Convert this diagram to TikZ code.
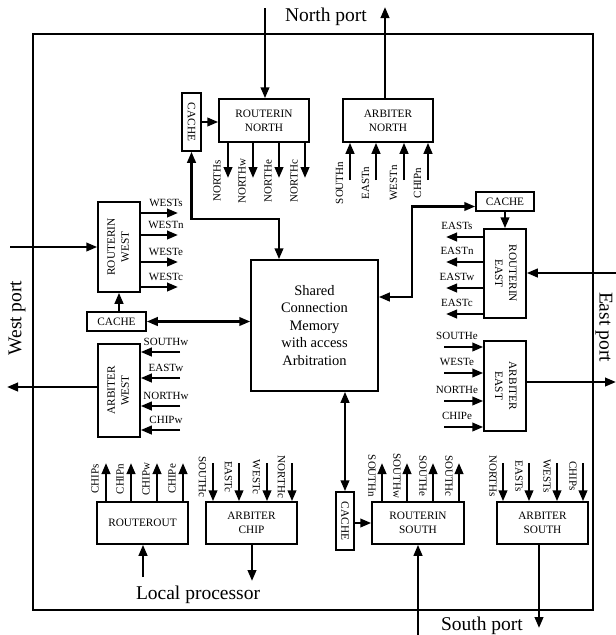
\documentclass[tikz,border=0pt]{standalone}
\usepackage{fontspec}
\setmainfont{Liberation Serif}
\usepackage{graphicx}
\usetikzlibrary{arrows.meta,calc}
\newcommand{\twol}[2]{\begin{tabular}{@{}c@{}}#1\\#2\end{tabular}}
\begin{document}
\begin{tikzpicture}[x=1pt,y=-1pt,
 box/.style={draw,line width=1.5pt,inner sep=0pt,align=center,font=\fontsize{11.3}{14}\selectfont},
 lbl/.style={inner sep=0pt,font=\fontsize{11}{13}\selectfont},
 port/.style={inner sep=0pt,font=\fontsize{19.5}{22}\selectfont},
 arr/.style={line width=2.3pt,-{Triangle[length=11pt,width=8.5pt]}},
 dbl/.style={line width=2.3pt,{Triangle[length=11pt,width=8.5pt]}-{Triangle[length=11pt,width=8.5pt]}},
]
\useasboundingbox (0,0) rectangle (616,635);
\draw[line width=1.4pt] (33,34) rectangle (593,610);

% boxes
\node[box,minimum width=90,minimum height=43] (rn) at (264,120.5) {ROUTERIN\\NORTH};
\node[box,minimum width=90,minimum height=43] (an) at (388,120.5) {ARBITER\\NORTH};
\node[box,minimum width=19,minimum height=58] (cn) at (191.5,122) {\rotatebox{-90}{CACHE}};
\node[box,minimum width=127,minimum height=131,font=\fontsize{14.5}{17.5}\selectfont] (sm) at (314.5,325.5) {Shared\\Connection\\Memory\\with access\\Arbitration};
\node[box,minimum width=42,minimum height=90] (rw) at (119,247) {\rotatebox{90}{\twol{ROUTERIN}{WEST}}};
\node[box,minimum width=59,minimum height=19] (cw) at (116.5,321.5) {CACHE};
\node[box,minimum width=42,minimum height=93] (aw) at (119,390.5) {\rotatebox{90}{\twol{ARBITER}{WEST}}};
\node[box,minimum width=58,minimum height=19] (ce) at (505,201.5) {CACHE};
\node[box,minimum width=42,minimum height=89] (re) at (505,273.5) {\rotatebox{-90}{\twol{ROUTERIN}{EAST}}};
\node[box,minimum width=42,minimum height=90] (ae) at (505,386) {\rotatebox{-90}{\twol{ARBITER}{EAST}}};
\node[box,minimum width=18,minimum height=58] (cs) at (345,521) {\rotatebox{-90}{CACHE}};
\node[box,minimum width=92,minimum height=42] (rs) at (418,523) {ROUTERIN\\SOUTH};
\node[box,minimum width=91,minimum height=42] (as) at (542.5,523) {ARBITER\\SOUTH};
\node[box,minimum width=91,minimum height=42] (ro) at (142.5,523) {ROUTEROUT};
\node[box,minimum width=91,minimum height=42] (ac) at (251.5,523) {ARBITER\\CHIP};

% port texts
\node[port] (tn) at (326,17) {North port};
\node[port,rotate=90] (tw) at (17,318) {West port};
\node[port,rotate=-90] (te) at (604,327) {East port};
\node[port] (ts) at (482,626) {South port};
\node[port] (tl) at (198,595) {Local processor};

% port arrows
\coordinate (nin) at (265,8);
\coordinate (nout) at (385,7);
\coordinate (win) at (10,247);
\coordinate (wout) at (7,387);
\coordinate (ein) at (616,273);
\coordinate (eout) at (616,382);
\coordinate (sin) at (418,635);
\coordinate (sout) at (539,628);
\coordinate (lin) at (143,577);
\coordinate (lout) at (252,581);
\draw[arr] (nin) -- (nin |- rn.north);
\draw[arr] (an.north -| nout) -- (nout);
\draw[arr] (win) -- (win -| rw.west);
\draw[arr] (aw.west |- wout) -- (wout);
\draw[arr] (ein) -- (ein -| re.east);
\draw[arr] (ae.east |- eout) -- (eout);
\draw[arr] (sin) -- (sin |- rs.south);
\draw[arr] (as.south -| sout) -- (sout);
\draw[arr] (lin) -- (lin |- ro.south);
\draw[arr] (ac.south -| lout) -- (lout);

% cache links
\draw[arr] (cn.east) -- (cn.east -| rn.west);
\draw[arr] (cw.north -| rw.south) -- (rw.south);
\draw[arr] (ce.south) -- (re.north);
\draw[arr] (cs.east |- rs.west) -- (rs.west);

% shared memory links
\coordinate (nb) at (279,219);
\draw[dbl] (cn.south) |- (nb) -- (nb |- sm.north);
\draw[dbl] (cw.east) -- (cw.east -| sm.west);
\coordinate (eb) at (412,297);
\draw[dbl] ([yshift=-5pt]ce.west) -| (eb) -- (eb -| sm.east);
\draw[dbl] (sm.south -| cs.north) -- (cs.north);

% ROUTERIN NORTH outputs
\foreach \x/\t/\i in {228/NORTHs/1,253/NORTHw/2,279/NORTHe/3,305/NORTHc/4}{
  \draw[arr] (rn.south -| \x,0) -- (\x,178);
  \node[lbl,rotate=90] (rnl\i) at (\x-11,181) {\t};
}
% ARBITER NORTH inputs
\foreach \x/\t/\i in {350/SOUTHn/1,376/EASTn/2,404/WESTn/3,428/CHIPn/4}{
  \draw[arr] (\x,180) -- (an.south -| \x,0);
  \node[lbl,rotate=90] (anl\i) at (\x-10.5,183) {\t};
}
% ROUTERIN WEST outputs
\foreach \y/\t/\i in {213/WESTs/1,235/WESTn/2,262/WESTe/3,287/WESTc/4}{
  \draw[arr] (rw.east |- 0,\y) -- (178,\y);
  \node[lbl] (rwl\i) at (166,\y-10.5) {\t};
}
% ARBITER WEST inputs
\foreach \y/\t/\i in {352/SOUTHw/1,378/EASTw/2,406/NORTHw/3,430/CHIPw/4}{
  \draw[arr] (180,\y) -- (aw.east |- 0,\y);
  \node[lbl] (awl\i) at (166,\y-10.5) {\t};
}
% ROUTERIN EAST outputs
\foreach \y/\t/\i in {237/EASTs/1,262/EASTn/2,288/EASTw/3,314/EASTc/4}{
  \draw[arr] (re.west |- 0,\y) -- (446,\y);
  \node[lbl] (rel\i) at (457,\y-11) {\t};
}
% ARBITER EAST inputs
\foreach \y/\t/\i in {347/SOUTHe/1,373/WESTe/2,401/NORTHe/3,427/CHIPe/4}{
  \draw[arr] (444,\y) -- (ae.west |- 0,\y);
  \node[lbl] (ael\i) at (457,\y-11) {\t};
}
% ROUTERIN SOUTH outputs
\foreach \x/\t/\i in {382/SOUTHn/1,407/SOUTHw/2,433/SOUTHe/3,459/SOUTHc/4}{
  \draw[arr] (rs.north -| \x,0) -- (\x,463);
  \node[lbl,rotate=-90] (rsl\i) at (\x-10,476) {\t};
}
% ARBITER SOUTH inputs
\foreach \x/\t/\i in {503/NORTHs/1,529/EASTs/2,557/WESTs/3,583/CHIPs/4}{
  \draw[arr] (\x,463) -- (as.north -| \x,0);
  \node[lbl,rotate=-90] (asl\i) at (\x-10,476) {\t};
}
% ROUTEROUT outputs
\foreach \x/\t/\i in {106/CHIPs/1,131/CHIPn/2,157/CHIPw/3,183/CHIPe/4}{
  \draw[arr] (ro.north -| \x,0) -- (\x,463);
  \node[lbl,rotate=90] (rol\i) at (\x-11,479) {\t};
}
% ARBITER CHIP inputs
\foreach \x/\t/\i in {213/SOUTHc/1,239/EASTc/2,267/WESTc/3,292/NORTHc/4}{
  \draw[arr] (\x,463) -- (ac.north -| \x,0);
  \node[lbl,rotate=-90] (acl\i) at (\x-10.5,477) {\t};
}
\end{tikzpicture}
\end{document}
